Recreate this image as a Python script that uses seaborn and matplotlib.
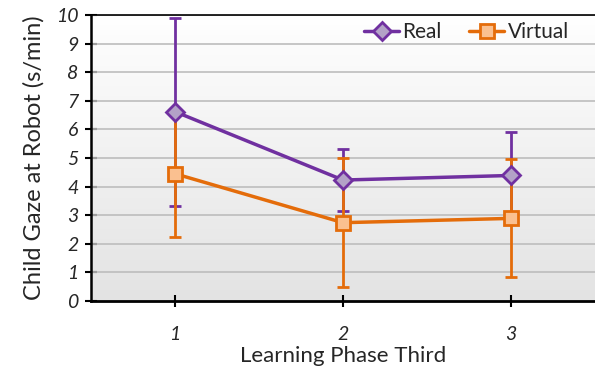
import numpy as np
import pandas as pd
import matplotlib
matplotlib.use("Agg")
import matplotlib.pyplot as plt
import seaborn as sns

phases = [1, 2, 3]
real_mean = [6.62, 4.23, 4.39]
real_err = [3.28, 1.07, 1.51]
virtual_mean = [4.45, 2.74, 2.89]
virtual_err = [2.21, 2.26, 2.06]
y_ticks = list(range(0, 11))

sns.set_theme(style="white")
plt.rcParams['font.family'] = ['Lato', 'DejaVu Sans']

fig = plt.figure(figsize=(5.95, 3.74), dpi=100)
ax = fig.add_axes([0.153, 0.195, 0.847, 0.765])

# gradient background
grad = np.linspace(0, 1, 256).reshape(-1, 1)
cmap = matplotlib.colors.LinearSegmentedColormap.from_list("g", ["#ffffff", "#e3e3e3"])
ax.imshow(grad, extent=[0, 1, 0, 1], transform=ax.transAxes, cmap=cmap,
          aspect="auto", zorder=0, origin="upper")

for t in y_ticks[1:]:
    ax.axhline(t, color="#bdbdbd", lw=1.2, zorder=1)

purple = "#7030A0"
purple_face = "#B3A2C7"
orange = "#E46C0A"
orange_face = "#FAC090"

df = pd.DataFrame({
    "phase": phases * 2,
    "value": real_mean + virtual_mean,
    "cond": ["Real"] * 3 + ["Virtual"] * 3,
})

ax.errorbar(phases, real_mean, yerr=real_err, fmt="none", ecolor=purple,
            elinewidth=2, capsize=4, capthick=2, zorder=3)
ax.errorbar(phases, virtual_mean, yerr=virtual_err, fmt="none", ecolor=orange,
            elinewidth=2, capsize=4, capthick=2, zorder=3.5)

sns.lineplot(data=df[df.cond == "Real"], x="phase", y="value", ax=ax,
             color=purple, lw=2.5, marker="D", markersize=9,
             markerfacecolor=purple_face, markeredgecolor=purple,
             markeredgewidth=2, label="Real", zorder=4)
sns.lineplot(data=df[df.cond == "Virtual"], x="phase", y="value", ax=ax,
             color=orange, lw=2.5, marker="s", markersize=10,
             markerfacecolor=orange_face, markeredgecolor=orange,
             markeredgewidth=2, label="Virtual", zorder=4)

ax.set_xlim(0.5, 3.5)
ax.set_ylim(0, 10)
ax.set_xticks(phases)
ax.set_xticklabels([str(p) for p in phases], fontstyle="italic", fontsize=14)
ax.set_yticks(y_ticks)
ax.set_yticklabels([str(t) for t in y_ticks], fontstyle="italic", fontsize=14)
ax.tick_params(axis="y", direction="inout", length=8, width=1.5, color="black",
               pad=5, left=True)
ax.tick_params(axis="x", direction="inout", length=8, width=1.5, color="black",
               pad=14, bottom=True)

for s in ["top", "right"]:
    ax.spines[s].set_visible(False)
ax.spines["left"].set_linewidth(1.8)
ax.spines["left"].set_color("black")
ax.spines["bottom"].set_linewidth(2)
ax.spines["bottom"].set_color("black")
ax.axhline(10, color="black", lw=1.2, zorder=2, clip_on=False)

ax.set_xlabel("Learning Phase Third", fontsize=16, labelpad=2)
ax.set_ylabel("Child Gaze at Robot (s/min)", fontsize=17, labelpad=8)

leg = ax.legend(loc="upper right", ncol=2, frameon=False, fontsize=15,
                bbox_to_anchor=(0.985, 1.04), handlelength=1.7,
                columnspacing=1.3, handletextpad=0.15)

fig.savefig("out.png", dpi=100)
